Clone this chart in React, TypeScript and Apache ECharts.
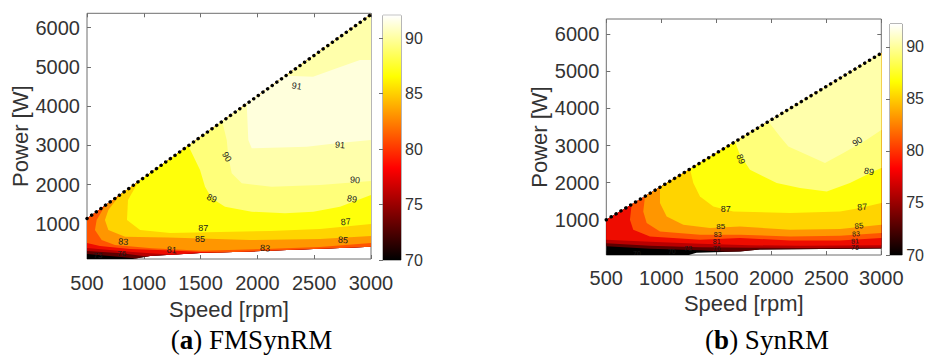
import React, { useEffect, useRef } from "react";
import * as echarts from "echarts";

// ---------- axes / ticks ----------
const speedRange = [500, 3000];
const speedInterval = 500;
const powerTicks = [1000, 2000, 3000, 4000, 5000, 6000];
const fmPowerRange = [110, 6362];
const syPowerRange = [50, 6410];
const colorbarRangeFm = [70, 92.05];
const colorbarRangeSy = [70, 92.2];
const colorbarInterval = 5;

// ---------- contour levels and colours (hot colormap) ----------
const levels = [70, 73, 76, 79, 81, 83, 85, 87, 89, 90, 91];
const levelColors = [
  "#000000", "#5d0000", "#b90000", "#ee0c00", "#ff5500", "#ff9600",
  "#ffd400", "#ffff0a", "#ffff7a", "#ffffab", "#ffffdc",
];
const hotMap: [number, string][] = [
  [0, "#000000"], [0.375, "#ff0000"], [0.75, "#ffff00"], [1, "#ffffff"],
];

// ---------- torque-limit lines [speed, power] ----------
const fmLimit = [[500, 1140], [3000, 6330]];
const syLimit = [[500, 1000], [3000, 5490]];

// ---------- FMSynRM: regions where efficiency >= level ----------
const fm70 = [[500, 110], [905, 110], [1055, 186], [1495, 262], [1935, 300], [2375, 351], [2727, 389], [3000, 422], [3000, 6330], [500, 1140]];
const fm73 = [[500, 237], [597, 211], [800, 160], [930, 123], [1055, 186], [1495, 262], [1935, 300], [2375, 351], [2727, 389], [3000, 422], [3000, 6330], [500, 1140]];
const fm76 = [[500, 313], [805, 254], [1030, 173], [1055, 186], [1495, 262], [1935, 300], [2375, 351], [2727, 389], [3000, 422], [3000, 6330], [500, 1140]];
const fm79 = [[500, 389], [700, 340], [900, 290], [1250, 220], [1495, 262], [1935, 300], [2375, 351], [2727, 389], [3000, 422], [3000, 6330], [500, 1140]];
const fm81 = [[500, 517], [614, 440], [879, 364], [1246, 325], [1500, 285], [1650, 275], [1935, 300], [2375, 351], [2727, 389], [3000, 422], [3000, 6330], [500, 1140]];
const fm83 = [[658, 1468], [585, 1102], [570, 847], [629, 593], [746, 466], [1070, 382], [1510, 321], [2067, 364], [2551, 415], [3000, 517], [3000, 6330]];
const fm85 = [[790, 1742], [688, 1356], [658, 1102], [688, 847], [835, 677], [1216, 660], [1935, 593], [2551, 618], [3000, 695], [3000, 6330]];
const fm87 = [[952, 2078], [861, 1611], [852, 1102], [967, 847], [1231, 771], [1671, 796], [2111, 822], [2551, 873], [3000, 1000], [3000, 6330]];
const fm89 = [[1392, 2992], [1495, 2374], [1539, 1949], [1598, 1654], [1715, 1440], [1950, 1313], [2243, 1272], [2492, 1313], [2727, 1440], [3000, 1738], [3000, 6330]];
const fm90 = [[1690, 3610], [1730, 3137], [1744, 2712], [1774, 2290], [1862, 2036], [2125, 1949], [2551, 1992], [3000, 2094], [3000, 6330]];
const fm91 = [[1906, 4059], [1920, 3137], [1950, 2926], [2434, 2967], [2698, 3053], [3000, 3137], [3000, 5173], [2903, 5173], [2698, 4962], [2490, 4748], [2250, 4773]];
const fmRegions = [fm70, fm73, fm76, fm79, fm81, fm83, fm85, fm87, fm89, fm90, fm91];

// ---------- SynRM: regions where efficiency >= level ----------
const sy70 = [[500, 50], [1250, 50], [1320, 111], [1715, 146], [1895, 200], [3000, 225], [3000, 5490], [500, 1000]];
const sy73 = [[500, 286], [897, 219], [1352, 179], [1600, 136], [1715, 146], [1895, 200], [3000, 225], [3000, 5490], [500, 1000]];
const sy76 = [[500, 367], [897, 300], [1352, 259], [1806, 246], [2261, 240], [3000, 245], [3000, 5490], [500, 1000]];
const sy79 = [[500, 461], [897, 408], [1352, 354], [1806, 313], [2261, 300], [3000, 313], [3000, 5490], [500, 1000]];
const sy81 = [[731, 1415], [715, 1000], [745, 731], [897, 550], [1352, 461], [1715, 507], [2170, 443], [2625, 443], [3000, 507], [3000, 5490]];
const sy83 = [[852, 1632], [836, 1224], [867, 911], [988, 685], [1352, 596], [1715, 596], [2170, 550], [2625, 569], [3000, 642], [3000, 5490]];
const sy85 = [[988, 1876], [988, 1450], [1049, 1089], [1200, 865], [1443, 776], [1715, 820], [2170, 731], [2625, 750], [3000, 865], [3000, 5490]];
const sy87 = [[1261, 2367], [1291, 1988], [1352, 1627], [1473, 1358], [1655, 1224], [2170, 1180], [2625, 1224], [2806, 1315], [3000, 1450], [3000, 5490]];
const sy89 = [[1670, 3101], [1715, 2750], [1806, 2347], [2049, 1988], [2261, 1854], [2504, 1762], [2715, 1988], [2927, 2301], [3000, 2392], [3000, 5490]];
const sy90 = [[1973, 3646], [2079, 3243], [2155, 2974], [2322, 2750], [2488, 2527], [2655, 2796], [2867, 3154], [3000, 3420], [3000, 5490]];
const syRegions = [sy70, sy73, sy76, sy79, sy81, sy83, sy85, sy87, sy89, sy90];

// ---------- contour labels [speed, power, text, angle°, fontSize] ----------
const fmLabels: [number, number, string, number, number][] = [
  [2346, 4511, "91", -10, 9], [2727, 3010, "91", -5, 9], [1730, 2712, "90", -60, 9],
  [2859, 2120, "90", -5, 9], [1598, 1654, "89", -25, 9], [2833, 1636, "89", -10, 9],
  [1524, 891, "87", 0, 9], [2777, 1059, "87", 5, 9], [1495, 618, "85", 0, 9],
  [2754, 593, "85", -5, 9], [820, 550, "83", -5, 9], [2067, 382, "83", -5, 9],
  [1246, 338, "81", -5, 9], [805, 254, "76", 0, 8], [597, 211, "73", 0, 8],
];
const syLabels: [number, number, string, number, number][] = [
  [2782, 3109, "90", 35, 9], [1722, 2635, "89", -70, 9], [2888, 2301, "89", -10, 9],
  [1585, 1296, "87", 0, 9], [2827, 1342, "87", 5, 9], [1540, 830, "85", 0, 8],
  [2797, 830, "85", 5, 8], [1513, 615, "83", 0, 7], [2770, 625, "83", 5, 7],
  [1504, 420, "81", 0, 7], [2761, 430, "81", 5, 7], [1504, 235, "76", 0, 7],
  [2761, 245, "76", 0, 7], [1245, 238, "73", 0, 7], [779, 84, "70", 0, 7], [1096, 150, "70", 0, 7],
];

const SANS = "'Liberation Sans', Arial, Helvetica, sans-serif";
const SERIF = "'Liberation Serif', 'Times New Roman', serif";
const TEXT = "#333333";
const BOX = "#6e6e6e";
const plain = (v: number) => String(v);

function plotAxes(gridIndex: number, yRange: number[], nameGapX: number, nameGapY: number, labelMarginX: number) {
  const x = [
    {
      gridIndex, type: "value", position: "bottom", min: speedRange[0], max: speedRange[1], interval: speedInterval,
      axisLine: { show: false }, splitLine: { show: false },
      axisTick: { inside: true, length: 4, lineStyle: { color: BOX } },
      axisLabel: { fontSize: 20, color: TEXT, fontFamily: SANS, margin: labelMarginX, formatter: plain },
      name: "Speed [rpm]", nameLocation: "middle", nameGap: nameGapX,
      nameTextStyle: { fontSize: 22, color: TEXT, fontFamily: SANS },
    },
    {
      gridIndex, type: "value", position: "top", min: speedRange[0], max: speedRange[1], interval: speedInterval,
      axisLine: { show: false }, splitLine: { show: false }, axisLabel: { show: false },
      axisTick: { inside: true, length: 4, lineStyle: { color: BOX } },
    },
  ];
  const y = [
    {
      gridIndex, type: "value", position: "left", min: yRange[0], max: yRange[1],
      axisLine: { show: false }, splitLine: { show: false },
      axisTick: { inside: true, length: 4, customValues: powerTicks, lineStyle: { color: BOX } },
      axisLabel: { fontSize: 20, color: TEXT, fontFamily: SANS, margin: 7, customValues: powerTicks, formatter: plain },
      name: "Power [W]", nameLocation: "middle", nameGap: nameGapY, nameRotate: 90,
      nameTextStyle: { fontSize: 22, color: TEXT, fontFamily: SANS },
    },
    {
      gridIndex, type: "value", position: "right", min: yRange[0], max: yRange[1],
      axisLine: { show: false }, splitLine: { show: false }, axisLabel: { show: false },
      axisTick: { inside: true, length: 4, customValues: powerTicks, lineStyle: { color: BOX } },
    },
  ];
  return { x, y };
}

function colorbarAxes(gridIndex: number, range: number[]) {
  return {
    x: { gridIndex, type: "value", min: 0, max: 1, show: false },
    y: {
      gridIndex, type: "value", position: "right", min: range[0], max: range[1], interval: colorbarInterval,
      axisLine: { show: false }, splitLine: { show: false },
      axisTick: { inside: true, length: 4, lineStyle: { color: BOX } },
      axisLabel: { fontSize: 16, color: TEXT, fontFamily: SANS, margin: 4, showMaxLabel: false, showMinLabel: true },
    },
  };
}

function regionSeries(xi: number, yi: number, regions: number[][][]) {
  return {
    type: "custom", xAxisIndex: xi, yAxisIndex: yi, silent: true, clip: true,
    data: regions.map((r) => r[0]),
    renderItem: (params: any, api: any) => {
      const pts = regions[params.dataIndex].map((p) => api.coord(p));
      return { type: "polygon", shape: { points: pts }, style: { fill: levelColors[params.dataIndex], stroke: null } };
    },
  };
}

function labelSeries(xi: number, yi: number, labels: [number, number, string, number, number][]) {
  return {
    type: "custom", xAxisIndex: xi, yAxisIndex: yi, silent: true, clip: true,
    data: labels.map((l) => [l[0], l[1]]),
    renderItem: (params: any, api: any) => {
      const l = labels[params.dataIndex];
      const c = api.coord([api.value(0), api.value(1)]);
      return {
        type: "text", x: c[0], y: c[1], rotation: (l[3] * Math.PI) / 180,
        style: { text: l[2], fontSize: l[4], fontFamily: SANS, fill: "#1a1a1a", align: "center", verticalAlign: "middle" },
      };
    },
  };
}

function limitSeries(xi: number, yi: number, data: number[][]) {
  return {
    type: "line", xAxisIndex: xi, yAxisIndex: yi, data, symbol: "none", silent: true,
    lineStyle: { color: "#000", width: 3.4, type: [0.1, 5.6], cap: "round" },
    z: 5,
  };
}

function colorbarSeries(xi: number, yi: number, range: number[]) {
  return {
    type: "custom", xAxisIndex: xi, yAxisIndex: yi, silent: true,
    data: [[0, range[0]]],
    renderItem: (_p: any, api: any) => {
      const tl = api.coord([0, range[1]]);
      const br = api.coord([1, range[0]]);
      return {
        type: "rect",
        shape: { x: tl[0], y: tl[1], width: br[0] - tl[0], height: br[1] - tl[1] },
        style: {
          fill: new echarts.graphic.LinearGradient(0, 1, 0, 0, hotMap.map(([o, c]) => ({ offset: o, color: c }))),
        },
      };
    },
  };
}

export default function App() {
  const ref = useRef<HTMLDivElement>(null);
  useEffect(() => {
    if (!ref.current) return;
    const chart = echarts.init(ref.current, null, { renderer: "svg" });
    const a = plotAxes(0, fmPowerRange, 39, 51, 14);
    const ca = colorbarAxes(1, colorbarRangeFm);
    const b = plotAxes(2, syPowerRange, 36, 52, 13);
    const cb = colorbarAxes(3, colorbarRangeSy);
    const gridBase = { show: true, borderColor: BOX, borderWidth: 1, backgroundColor: "transparent", containLabel: false };
    chart.setOption({
      animation: false,
      backgroundColor: "#ffffff",
      grid: [
        { ...gridBase, left: 87, top: 13.3, width: 284, height: 245.7 },
        { ...gridBase, left: 383, top: 15.3, width: 18, height: 244.7 },
        { ...gridBase, left: 606.3, top: 19, width: 275, height: 236 },
        { ...gridBase, left: 890, top: 24, width: 19.7, height: 231 },
      ],
      xAxis: [a.x[0], a.x[1], ca.x, b.x[0], b.x[1], cb.x],
      yAxis: [a.y[0], a.y[1], ca.y, b.y[0], b.y[1], cb.y],
      series: [
        regionSeries(0, 0, fmRegions),
        labelSeries(0, 0, fmLabels),
        limitSeries(0, 0, fmLimit),
        colorbarSeries(2, 2, colorbarRangeFm),
        regionSeries(3, 3, syRegions),
        labelSeries(3, 3, syLabels),
        limitSeries(3, 3, syLimit),
        colorbarSeries(5, 5, colorbarRangeSy),
      ],
      graphic: [
        {
          type: "text", x: 251.5, y: 340,
          style: {
            text: "({b|a}) FMSynRM", fontSize: 27, fontFamily: SERIF, fill: "#000",
            align: "center", verticalAlign: "middle",
            rich: { b: { fontWeight: "bold", fontSize: 27, fontFamily: SERIF } },
          },
        },
        {
          type: "text", x: 767, y: 340,
          style: {
            text: "({b|b}) SynRM", fontSize: 27, fontFamily: SERIF, fill: "#000",
            align: "center", verticalAlign: "middle",
            rich: { b: { fontWeight: "bold", fontSize: 27, fontFamily: SERIF } },
          },
        },
      ],
    });
    return () => chart.dispose();
  }, []);
  return <div ref={ref} style={{ position: "absolute", left: 0, top: 0, width: 927, height: 356 }} />;
}
